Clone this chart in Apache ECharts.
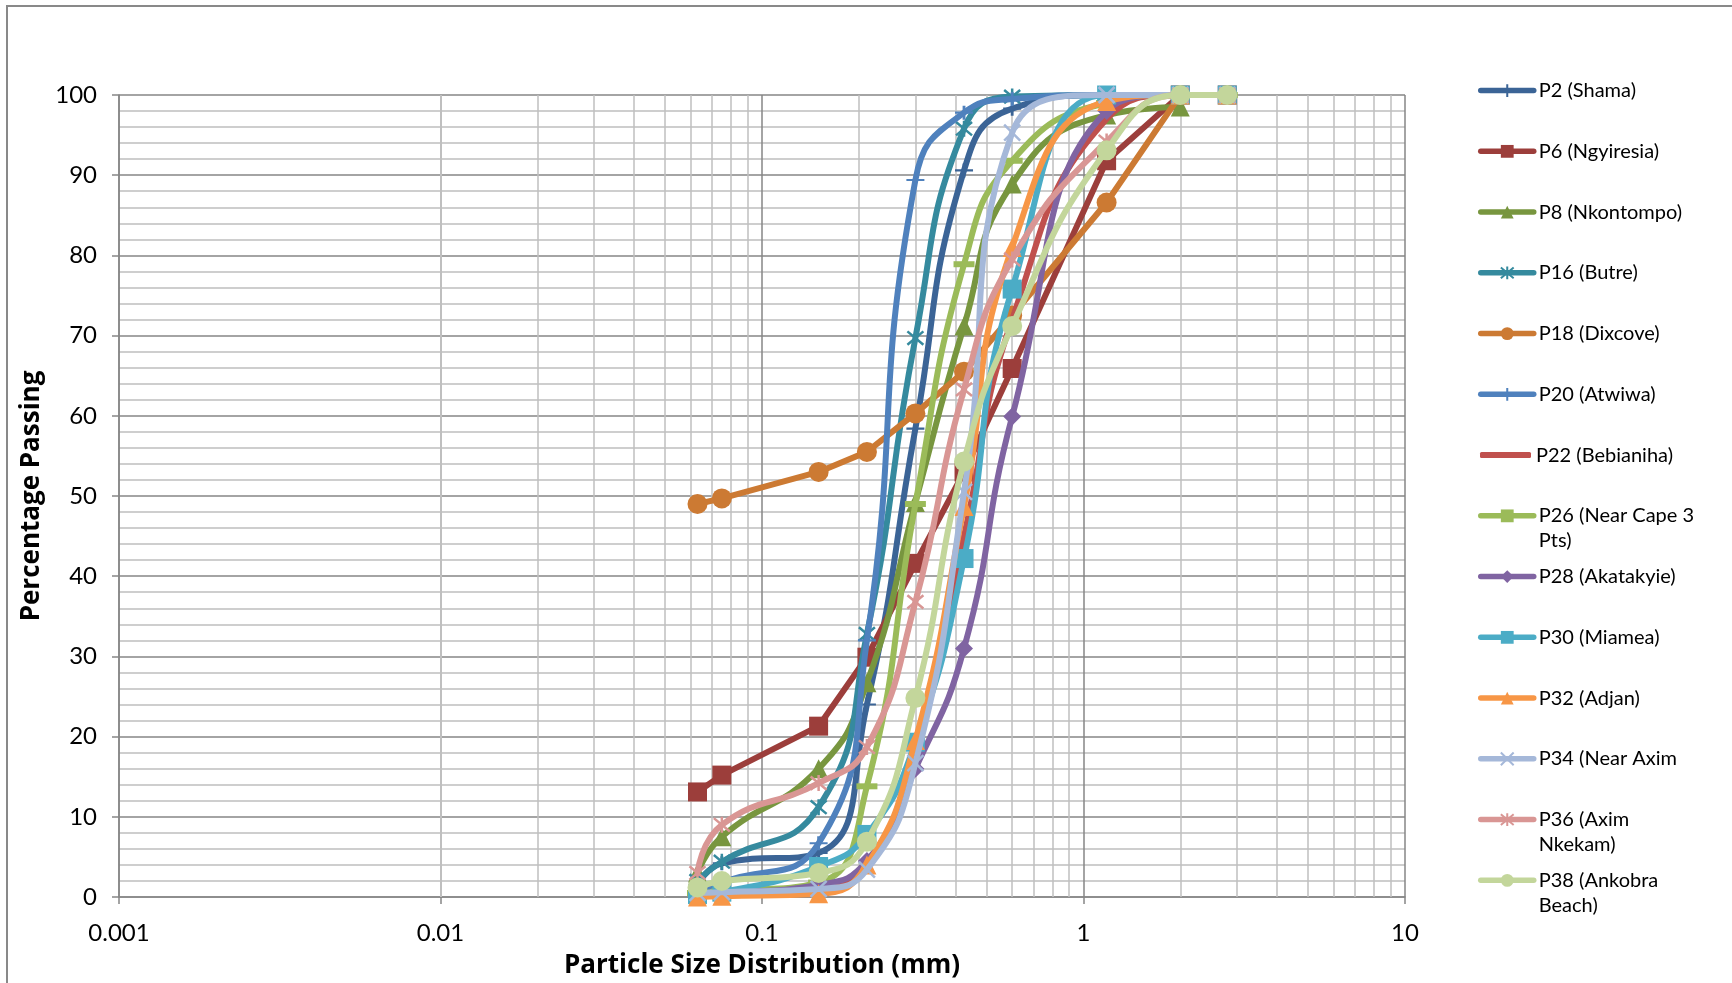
<!DOCTYPE html>
<html>
<head>
<meta charset="utf-8">
<script src="https://cdn.jsdelivr.net/npm/echarts@6/dist/echarts.min.js"></script>
<style>
html,body{margin:0;padding:0;background:#fff;}
#chart{width:1732px;height:983px;}
</style>
</head>
<body>
<div id="chart"></div>
<script>
// Sieve sizes (mm)
const sizes = [0.063, 0.075, 0.15, 0.212, 0.3, 0.425, 0.6, 1.18, 2.0, 2.8];

const seriesNames = ['P2 (Shama)', 'P6 (Ngyiresia)', 'P8 (Nkontompo)', 'P16 (Butre)', 'P18 (Dixcove)',
  'P20 (Atwiwa)', 'P22 (Bebianiha)', 'P26 (Near Cape 3 Pts)', 'P28 (Akatakyie)', 'P30 (Miamea)',
  'P32 (Adjan)', 'P34 (Near Axim', 'P36 (Axim Nkekam)', 'P38 (Ankobra Beach)'];

const legendLabels = ['P2 (Shama)', 'P6 (Ngyiresia)', 'P8 (Nkontompo)', 'P16 (Butre)', 'P18 (Dixcove)',
  'P20 (Atwiwa)', 'P22 (Bebianiha)', 'P26 (Near Cape 3\nPts)', 'P28 (Akatakyie)', 'P30 (Miamea)',
  'P32 (Adjan)', 'P34 (Near Axim', 'P36 (Axim\nNkekam)', 'P38 (Ankobra\nBeach)'];

// Percentage passing per sample (one value per sieve size; null = no reading)
const p2  = [1.5, 4.2, 5.5, 24.0, 58.4, 90.6, 98.3, 100, 100, 100];
const p6  = [13.1, 15.2, 21.3, 29.9, 41.6, 53.0, 65.9, 91.8, 100, 100];
const p8  = [3.0, 7.5, 16.0, 26.7, 49.2, 71.2, 88.9, 97.5, 98.5, null];
const p16 = [2.0, 4.4, 11.2, 32.8, 69.7, 95.8, 99.8, 100, 100, 100];
const p18 = [49.0, 49.7, 53.0, 55.5, 60.3, 65.5, 72.5, 86.6, 100, 100];
const p20 = [0.8, 1.8, 6.7, 32.0, 89.4, 97.8, 99.5, 100, 100, 100];
const p22 = [0.3, 0.6, 1.5, 4.0, 19.0, 45.0, 72.0, 97.0, 100, 100];
const p26 = [0.5, 0.7, 1.8, 13.8, 49.0, 78.9, 91.8, 99.0, 100, 100];
const p28 = [0.3, 0.5, 1.5, 4.5, 16.0, 31.0, 59.9, 98.0, 100, 100];
const p30 = [0.3, 0.6, 3.8, 7.8, 19.3, 42.2, 75.8, 100, 100, 100];
const p32 = [0.0, 0.1, 0.4, 4.0, 19.5, 48.7, 81.0, 99.2, 100, 100];
const p34 = [0.5, 0.6, 1.0, 3.4, 16.7, 50.5, 95.3, 100, 100, 100];
const p36 = [3.0, 9.0, 14.2, 18.7, 36.8, 63.3, 79.5, 94.2, 100, 100];
const p38 = [1.2, 2.0, 3.0, 6.9, 24.8, 54.3, 71.2, 93.1, 100, 100];

const allValues = [p2, p6, p8, p16, p18, p20, p22, p26, p28, p30, p32, p34, p36, p38];

// Axis tick labels and minor log gridline positions
const xTickLabels = ['0.001', '0.01', '0.1', '1', '10'];
const yTicks = [0, 10, 20, 30, 40, 50, 60, 70, 80, 90, 100];
const minorX = [0.002, 0.003, 0.004, 0.005, 0.006, 0.007, 0.008, 0.009,
  0.02, 0.03, 0.04, 0.05, 0.06, 0.07, 0.08, 0.09,
  0.2, 0.3, 0.4, 0.5, 0.6, 0.7, 0.8, 0.9,
  2, 3, 4, 5, 6, 7, 8, 9];

const colors = ['#3B6496', '#9C3E3B', '#78963F', '#358A9E', '#CC7A33', '#4F81BD', '#C0504D',
  '#9BBB59', '#8064A2', '#4BACC6', '#F79646', '#A5B8D9', '#D99694', '#C3D69B'];

const PLUS = 'path://M5,0 L5,10 M0,5 L10,5';
const ASTER = 'path://M0,0 L10,10 M10,0 L0,10 M5,-1 L5,11';
const XMARK = 'path://M0,0 L10,10 M10,0 L0,10';
const symbols = [PLUS, 'rect', 'triangle', ASTER, 'circle', PLUS, 'none', 'rect', 'diamond', 'rect',
  'triangle', XMARK, ASTER, 'circle'];
const symbolSizes = [[18, 14], 19, 19, [16, 16], 20, [18, 14], 0, [21, 6], 18, 19, 19, [16, 16], [16, 16], 20];
const smoothFlags = [true, false, true, true, false, true, true, true, true, true, true, true, true, true];

const FONT = 'Lato, "Open Sans", sans-serif';
const TITLE_FONT = '"Open Sans", Lato, sans-serif';

const series = seriesNames.map((name, i) => {
  const data = [];
  sizes.forEach((s, j) => { if (allValues[i][j] !== null) data.push([s, allValues[i][j]]); });
  const isPath = typeof symbols[i] === 'string' && symbols[i].indexOf('path://') === 0;
  return {
    name: name,
    type: 'line',
    data: data,
    smooth: smoothFlags[i] ? 0.5 : false,
    symbol: symbols[i],
    symbolSize: symbolSizes[i],
    showSymbol: symbols[i] !== 'none',
    lineStyle: { color: colors[i], width: 6, cap: 'round', join: 'round' },
    itemStyle: { color: colors[i], borderColor: colors[i], borderWidth: isPath ? 2.5 : 0 },
    z: 3 + i,
    animation: false
  };
});

// dummy series carrying the minor vertical log gridlines
series.unshift({
  name: '__grid',
  type: 'line',
  data: [],
  silent: true,
  animation: false,
  markLine: {
    silent: true,
    z: 1,
    animation: false,
    symbol: ['none', 'none'],
    label: { show: false },
    lineStyle: { color: '#BFBFBF', width: 1.5, type: 'solid' },
    emphasis: { disabled: true },
    data: minorX.map(v => ({ xAxis: v }))
  }
});

// Legends: one per entry, evenly spaced; wrapped labels get a leading blank line so the
// first line sits level with the icon
const L = 25;
const legendTop0 = 90.6, legendStep = 60.75;
const legends = seriesNames.map((name, i) => {
  const twoLine = legendLabels[i].indexOf('\n') >= 0;
  const cy = legendTop0 + i * legendStep;
  const noMarker = symbols[i] === 'none';
  const ih = noMarker ? 6 : 16;
  const blockH = twoLine ? 3 * L : L;
  return {
    data: noMarker ? [{ name: name, icon: 'roundRect' }] : [name],
    orient: 'vertical',
    left: noMarker ? 1480 : 1478,
    top: cy - Math.max(blockH, ih) / 2,
    padding: 0,
    itemWidth: noMarker ? 51 : 53,
    itemHeight: ih,
    itemGap: 0,
    selectedMode: false,
    lineStyle: { width: 5.5, cap: 'round' },
    formatter: () => (twoLine ? '\n' : '') + legendLabels[i],
    textStyle: { fontFamily: FONT, fontSize: 20, color: '#000', lineHeight: L }
  };
});

const chart = echarts.init(document.getElementById('chart'), null, { renderer: 'canvas' });
chart.setOption({
  animation: false,
  backgroundColor: '#fff',
  graphic: [{
    type: 'rect',
    shape: { x: 7, y: 6, width: 1780, height: 1020 },
    style: { fill: 'none', stroke: '#898989', lineWidth: 2 },
    silent: true, z: -1
  }],
  grid: { left: 119, right: 327, top: 95, bottom: 86, containLabel: false, outerBoundsMode: 'none' },
  legend: legends,
  xAxis: {
    type: 'log',
    logBase: 10,
    min: 0.001,
    max: 10,
    name: 'Particle Size Distribution (mm)',
    nameLocation: 'middle',
    nameGap: 56,
    nameTextStyle: { fontFamily: TITLE_FONT, fontSize: 26, fontWeight: 'bold', color: '#000' },
    axisLine: { show: true, lineStyle: { color: '#868686', width: 1.5 } },
    axisTick: { show: true, inside: false, length: 7, lineStyle: { color: '#868686', width: 1.5 } },
    axisLabel: {
      fontFamily: FONT, fontSize: 24, color: '#000', margin: 24,
      formatter: function (v) {
        const idx = Math.round(Math.log10(v)) + 3;
        return xTickLabels[idx] !== undefined ? xTickLabels[idx] : '';
      }
    },
    splitLine: { show: true, lineStyle: { color: '#868686', width: 1.5 } },
    minorTick: { show: false },
    minorSplitLine: { show: false }
  },
  yAxis: {
    type: 'value',
    min: yTicks[0],
    max: yTicks[yTicks.length - 1],
    interval: 10,
    name: 'Percentage Passing',
    nameLocation: 'middle',
    nameGap: 68,
    nameTextStyle: { fontFamily: TITLE_FONT, fontSize: 26, fontWeight: 'bold', color: '#000' },
    axisLine: { show: true, lineStyle: { color: '#868686', width: 1.5 } },
    axisTick: { show: true, inside: false, length: 7, lineStyle: { color: '#868686', width: 1.5 } },
    axisLabel: { fontFamily: FONT, fontSize: 24, color: '#000', margin: 22 },
    splitLine: { show: true, lineStyle: { color: '#868686', width: 1.5 } },
    minorTick: { show: false, splitNumber: 5 },
    minorSplitLine: { show: true, lineStyle: { color: '#BFBFBF', width: 1.5 } }
  },
  series: series
});
</script>
</body>
</html>
